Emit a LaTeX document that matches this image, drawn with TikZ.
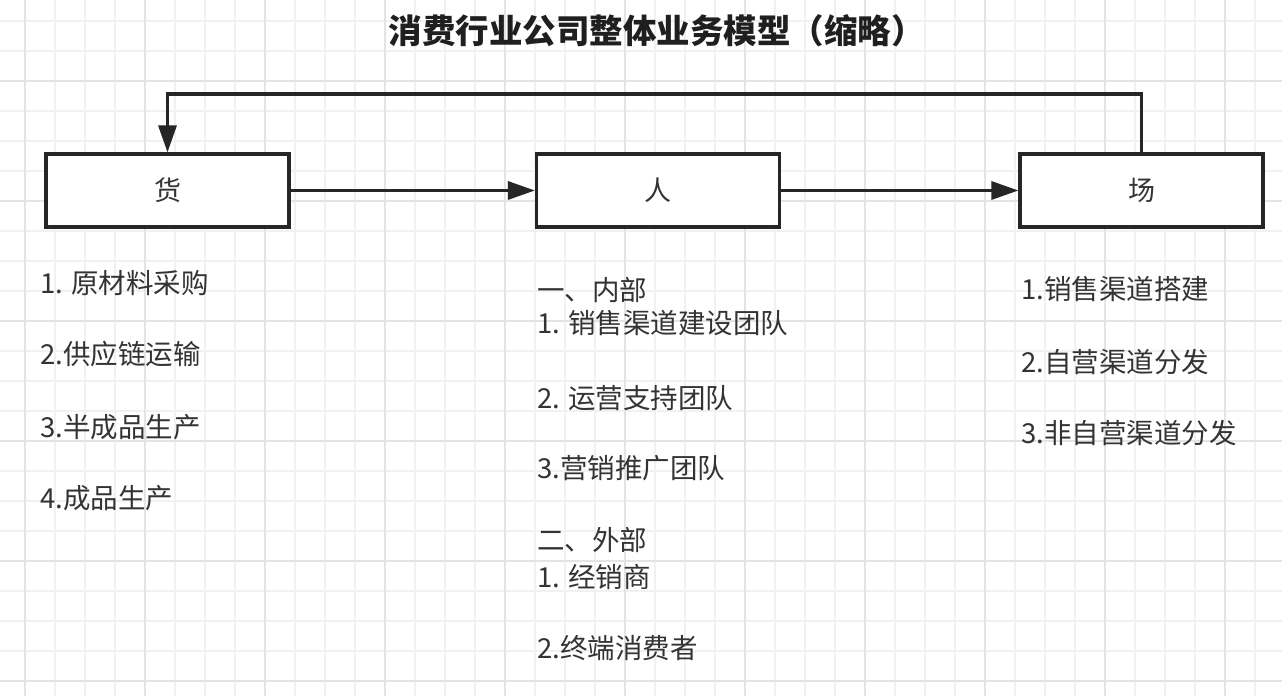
\documentclass[tikz,border=0pt]{standalone}
\usepackage{fontspec}
\setmainfont{Noto Sans CJK SC}
\usetikzlibrary{arrows.meta}
\definecolor{ink}{HTML}{262626}
\definecolor{txt}{HTML}{333333}
\definecolor{gridminor}{HTML}{F1F1F1}
\definecolor{gridmajor}{HTML}{E4E4E4}
\tikzset{
  stagebox/.style={draw=ink, line width=3.2pt, fill=white, rectangle,
    minimum width=243pt, minimum height=73pt, inner sep=0pt,
    text=txt, font=\fontsize{27}{32}\selectfont},
  conn/.style={draw=ink, line width=3.2pt, -{Triangle[length=27pt,width=18pt]}},
  item/.style={anchor=base west, inner sep=0pt, text=txt,
    font=\fontsize{27.5}{33}\selectfont},
  titletext/.style={anchor=base, inner sep=0pt, text=black!88,
    font=\fontsize{33.5}{40}\selectfont\bfseries},
  gminor/.style={draw=gridminor, line width=1.4pt},
  gmajor/.style={draw=gridmajor, line width=1.6pt}
}
\begin{document}
\begin{tikzpicture}[x=1pt,y=-1pt]
\fill[white] (0,0) rectangle (1282,696);
\useasboundingbox (0,0) rectangle (1282,696);
\begin{scope}
\clip (0,0) rectangle (1282,696);
\foreach \x in {-5,25,...,1285} \draw[gminor] (\x,0) -- (\x,696);
\foreach \y in {21,51,...,681} \draw[gminor] (0,\y) -- (1282,\y);
\foreach \x in {25,145,...,1225} \draw[gmajor] (\x,0) -- (\x,696);
\foreach \y in {81,201,...,681} \draw[gmajor] (0,\y) -- (1282,\y);
\end{scope}

\node[titletext] (title) at (656.5,43.5) {消费行业公司整体业务模型（缩略）};

\node[stagebox] (huo) at (167.5,190.5) {货};
\node[stagebox] (ren) at (658,190.5) {人};
\node[stagebox] (chang) at (1141.5,190.5) {场};

\coordinate (loopR) at (1141.5,94);
\coordinate (loopL) at (167.5,94);

\draw[conn] (huo.east) -- (ren.west);
\draw[conn] (ren.east) -- (chang.west);
\draw[conn] (chang.north) -- (loopR) -- (loopL) -- (huo.north);

\node[item] (h1) at (40,293) {1. 原材料采购};
\node[item] (h2) at (40,364.5) {2.供应链运输};
\node[item] (h3) at (40,437) {3.半成品生产};
\node[item] (h4) at (40,508) {4.成品生产};

\node[item] (r0) at (537,300) {一、内部};
\node[item] (r1) at (537,333.5) {1. 销售渠道建设团队};
\node[item] (r2) at (537,408) {2. 运营支持团队};
\node[item] (r3) at (537,478) {3.营销推广团队};
\node[item] (r4) at (537,550) {二、外部};
\node[item] (r5) at (537,587) {1. 经销商};
\node[item] (r6) at (537,658) {2.终端消费者};

\node[item] (c1) at (1021,299) {1.销售渠道搭建};
\node[item] (c2) at (1021,372) {2.自营渠道分发};
\node[item] (c3) at (1021,443) {3.非自营渠道分发};
\end{tikzpicture}
\end{document}
